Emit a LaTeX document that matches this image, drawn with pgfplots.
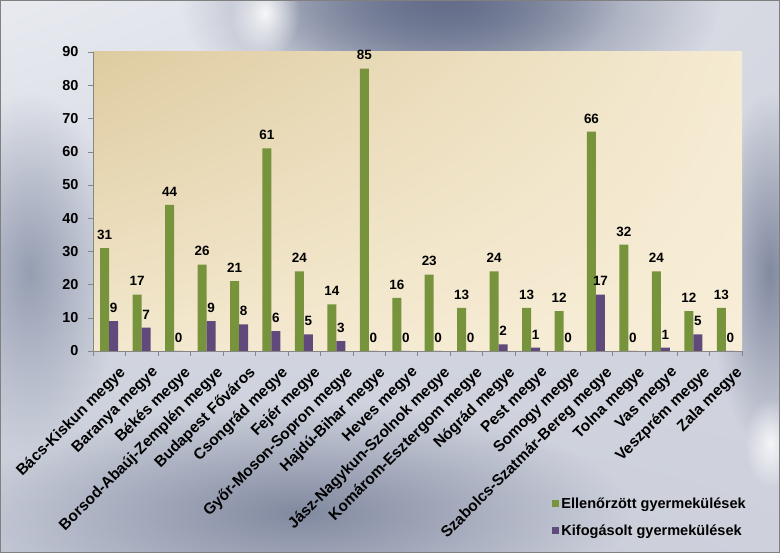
\documentclass[border=0pt]{standalone}
\usepackage{pgfplots}
\pgfplotsset{compat=1.18}
\usepackage{pgfplotstable}
\usepackage{fontspec}
\setmainfont{Liberation Sans}
\usetikzlibrary{fadings,shadings}
\tikzfading[name=fade out, inner color=transparent!0, outer color=transparent!100]
\definecolor{grn}{HTML}{77933C}
\definecolor{pur}{HTML}{604A7B}
\definecolor{bgul}{RGB}{232,234,240}
\definecolor{bgur}{RGB}{214,217,226}
\definecolor{bgll}{RGB}{196,201,214}
\definecolor{bglr}{RGB}{206,209,220}
\definecolor{dark1}{RGB}{100,110,138}
\definecolor{dark2}{RGB}{130,138,160}
\definecolor{dark3}{RGB}{150,158,178}
\definecolor{axgray}{RGB}{134,134,134}
\definecolor{paul}{RGB}{222,203,160}
\definecolor{paur}{RGB}{245,235,210}
\definecolor{pall}{RGB}{243,232,206}
\definecolor{palr}{RGB}{248,238,216}

\pgfplotstableread{
idx ell kif
0 31 9
1 17 7
2 44 0
3 26 9
4 21 8
5 61 6
6 24 5
7 14 3
8 85 0
9 16 0
10 23 0
11 13 0
12 24 2
13 13 1
14 12 0
15 66 17
16 32 0
17 24 1
18 12 5
19 13 0
}\datatable

\begin{document}
\begin{tikzpicture}[x=1bp,y=1bp]
\useasboundingbox (0,0) rectangle (780,553);
% background
\begin{scope}
\clip (0,0) rectangle (780,553);
\shade[upper left=bgul, upper right=bgur, lower left=bgll, lower right=bglr]
  (0,0) rectangle (780,553);
\fill[dark1, path fading=fade out] (450,553) ellipse (270 and 140);
\fill[dark1, path fading=fade out, opacity=0.8] (430,553) ellipse (190 and 80);
\fill[dark2, path fading=fade out] (300,40) ellipse (330 and 110);
\fill[dark2, path fading=fade out] (770,280) ellipse (60 and 180);
\fill[dark3, path fading=fade out] (30,280) ellipse (90 and 180);
\fill[white, path fading=fade out, opacity=0.9] (265,540) ellipse (35 and 45);
\fill[white, path fading=fade out, opacity=0.8] (770,110) ellipse (25 and 45);
\end{scope}
\draw[gray] (0.5,0.5) rectangle (779.5,552.5);

\begin{axis}[
  at={(93bp,202bp)}, anchor=south west,
  scale only axis, width=649bp, height=299bp,
  xmin=-0.5, xmax=19.5, ymin=0, ymax=90,
  axis x line=bottom, axis y line=left,
  axis line style={draw=axgray, -},
  tick style={draw=axgray},
  tick align=outside,
  major tick length=5bp, minor tick length=5bp,
  ytick={0,10,...,90},
  xtick={0,...,19},
  major x tick style={draw=none},
  minor xtick={-0.5,0.5,...,19.5},
  xticklabels={B\'acs-Kiskun megye, Baranya megye, B\'ek\'es megye, Borsod-Aba\'uj-Zempl\'en megye, Budapest F\H{o}v\'aros, Csongr\'ad megye, Fej\'er megye, Gy\H{o}r-Moson-Sopron megye, Hajd\'u-Bihar megye, Heves megye, J\'asz-Nagykun-Szolnok megye, Kom\'arom-Esztergom megye, N\'ogr\'ad megye, Pest megye, Somogy megye, Szabolcs-Szatm\'ar-Bereg megye, Tolna megye, Vas megye, Veszpr\'em megye, Zala megye},
  xticklabel style={rotate=45, anchor=east, font=\bfseries\fontsize{15.5}{16}\selectfont, yshift=-20bp, xshift=1bp, inner sep=1bp},
  yticklabel style={font=\bfseries\fontsize{14.5}{15}\selectfont, xshift=-6bp},
  /pgf/number format/assume math mode=true,
  axis background/.style={shade,
     upper left=paul, upper right=paur, lower left=pall, lower right=palr},
  ybar=0pt, bar width=9bp,
  nodes near coords,
  nodes near coords style={font=\bfseries\fontsize{13.5}{14}\selectfont, text=black, yshift=5bp},
  legend style={at={(0.703,-0.476)}, anchor=north west, draw=none, fill=none,
     font=\bfseries\fontsize{14.6}{15}\selectfont, row sep=11bp, cells={anchor=west}},
  legend image code/.code={\fill[#1] (0bp,-3.5bp) rectangle (7bp,3.5bp);},
]
\addplot[fill=grn, draw=none] table[x=idx, y=ell] {\datatable};
\addplot[fill=pur, draw=none] table[x=idx, y=kif] {\datatable};
\legend{Ellen\H{o}rz\"ott gyermek\"ul\'esek, Kifog\'asolt gyermek\"ul\'esek}
\end{axis}
\end{tikzpicture}
\end{document}
